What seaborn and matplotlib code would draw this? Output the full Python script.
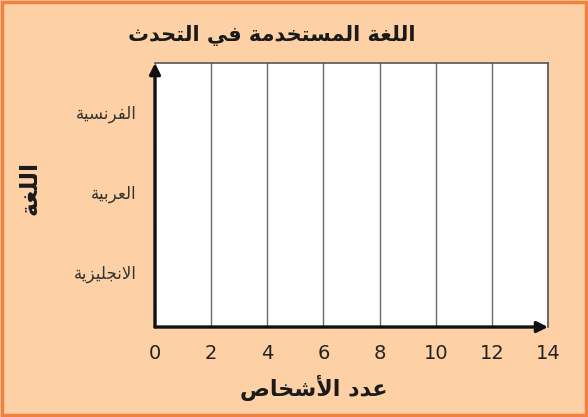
import matplotlib
matplotlib.use("Agg")
import matplotlib.pyplot as plt
from matplotlib.patches import Rectangle
import seaborn as sns
import pandas as pd

# chart text and data (the chart is an empty template: no counts yet)
title = "اللغة المستخدمة في التحدث"
x_label = "عدد الأشخاص"
y_label = "اللغة"
languages = ["الفرنسية", "العربية", "الانجليزية"]
counts = [0, 0, 0]
x_ticks = [0, 2, 4, 6, 8, 10, 12, 14]

# matplotlib has no Arabic shaping, so map letters to presentation forms
DUAL = {'ب': 0xFE8F, 'ت': 0xFE95, 'ث': 0xFE99, 'ج': 0xFE9D, 'ح': 0xFEA1,
        'خ': 0xFEA5, 'س': 0xFEB1, 'ش': 0xFEB5, 'ص': 0xFEB9, 'ع': 0xFEC9,
        'غ': 0xFECD, 'ف': 0xFED1, 'ق': 0xFED5, 'ك': 0xFED9, 'ل': 0xFEDD,
        'م': 0xFEE1, 'ن': 0xFEE5, 'ه': 0xFEE9, 'ي': 0xFEF1}
RIGHT = {'ا': 0xFE8D, 'أ': 0xFE83, 'إ': 0xFE87, 'ة': 0xFE93, 'د': 0xFEA9,
         'ذ': 0xFEAB, 'ر': 0xFEAD, 'ز': 0xFEAF, 'و': 0xFEED}
LAM_ALEF = {'ا': 0xFEFB, 'أ': 0xFEF7, 'إ': 0xFEF9}


def shape(text):
    chars = []
    i = 0
    while i < len(text):
        c = text[i]
        if c == 'ل' and i + 1 < len(text) and text[i + 1] in LAM_ALEF:
            chars.append(('LA', text[i + 1]))
            i += 2
        else:
            chars.append((c, None))
            i += 1
    out = []
    for k, (c, a) in enumerate(chars):
        prev = chars[k - 1][0] if k > 0 else None
        nxt = chars[k + 1][0] if k + 1 < len(chars) else None
        joins_prev = prev in DUAL
        if c == 'LA':
            out.append(chr(LAM_ALEF[a] + (1 if joins_prev else 0)))
        elif c in DUAL:
            joins_next = nxt in DUAL or nxt in RIGHT or nxt == 'LA'
            if joins_prev and joins_next:
                form = 3
            elif joins_prev:
                form = 1
            elif joins_next:
                form = 2
            else:
                form = 0
            out.append(chr(DUAL[c] + form))
        elif c in RIGHT:
            out.append(chr(RIGHT[c] + (1 if joins_prev else 0)))
        else:
            out.append(c)
    return ''.join(reversed(out))


sns.set_style("white")
plt.rcParams['font.family'] = ['DejaVu Sans']

peach = '#FDD1A5'
orange = '#F2803F'

df = pd.DataFrame({'lang': languages, 'count': counts})

fig = plt.figure(figsize=(5.88, 4.17), dpi=100, facecolor=peach)
ax = fig.add_axes([0.2636, 0.2158, 0.6684, 0.633])
ax.set_facecolor('white')

sns.barplot(data=df, x='count', y='lang', orient='h', color='#4472C4', ax=ax)

ax.set_xlim(0, 14)
ax.set_ylim(2.68, -0.6)
ax.set_xticks(x_ticks)
ax.set_xticklabels([str(t) for t in x_ticks], fontsize=14, color='#222222')
ax.set_yticks(range(len(languages)))
ax.set_yticklabels([shape(l) for l in languages], fontsize=12, color='#333333')
ax.tick_params(axis='both', length=0)
ax.tick_params(axis='x', pad=12)
ax.tick_params(axis='y', pad=13)

ax.xaxis.grid(True, color='#6a6a6a', lw=1)
ax.yaxis.grid(False)
ax.set_axisbelow(True)

for side in ['top', 'right']:
    ax.spines[side].set_color('#555555')
    ax.spines[side].set_linewidth(1.2)
for side in ['left', 'bottom']:
    ax.spines[side].set_visible(False)

# axis arrows
ax.annotate('', xy=(0, 1.0), xycoords='axes fraction', xytext=(0, 0),
            arrowprops=dict(arrowstyle='-|>', color='#111111', lw=2.4,
                            mutation_scale=16, shrinkA=0, shrinkB=0))
ax.annotate('', xy=(1.0, 0), xycoords='axes fraction', xytext=(0, 0),
            arrowprops=dict(arrowstyle='-|>', color='#111111', lw=2.4,
                            mutation_scale=16, shrinkA=0, shrinkB=0))

ax.set_xlabel('')
ax.set_ylabel('')
fig.text(0.462, 0.916, shape(title), fontsize=15, fontweight='bold',
         ha='center', va='center', color='#1a1a1a')
fig.text(0.534, 0.07, shape(x_label), fontsize=16, fontweight='bold',
         ha='center', va='center', color='#1a1a1a')
fig.text(0.051, 0.55, shape(y_label), fontsize=17, fontweight='bold',
         ha='center', va='center', rotation=90, color='#1a1a1a')

fig.patches.append(Rectangle((0.004, 0.005), 0.992, 0.99, transform=fig.transFigure,
                             fill=False, edgecolor=orange, lw=2.5))

fig.savefig('out.png', dpi=100, facecolor=peach)
